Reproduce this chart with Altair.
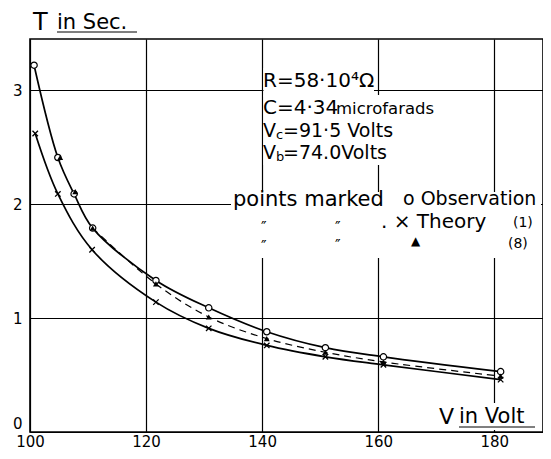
import altair as alt
import pandas as pd

# ---- data ----
obs_v = [100.7, 104.8, 107.6, 110.8, 121.7, 130.8, 140.8, 150.9, 160.9, 181.1]
obs_t = [3.22, 2.41, 2.09, 1.79, 1.33, 1.09, 0.88, 0.74, 0.66, 0.53]

th1_v = [100.9, 104.8, 110.7, 121.7, 130.8, 140.8, 150.9, 160.9, 181.1]
th1_t = [2.62, 2.09, 1.60, 1.14, 0.91, 0.76, 0.66, 0.59, 0.46]

th8_v = [105.2, 107.8, 110.8, 121.7, 130.8, 140.8, 150.9, 160.9, 181.1]
th8_t = [2.41, 2.11, 1.79, 1.30, 1.01, 0.82, 0.70, 0.615, 0.49]

x_ticks = [100, 120, 140, 160, 180]
y_ticks = [0, 1, 2, 3]

FONT = "DejaVu Sans"
# plot area placement (page pixels); the page has an 8px margin
LEFT, TOP = 30, 39
W, H = 513, 393

obs = pd.DataFrame({"V": obs_v, "T": obs_t})
th1 = pd.DataFrame({"V": th1_v, "T": th1_t})
th8 = pd.DataFrame({"V": th8_v, "T": th8_t})
th8_curve = th8[th8["V"] >= 110].reset_index(drop=True)

xs = alt.Scale(domain=[100, 188.4], nice=False, zero=False)
ys = alt.Scale(domain=[0, 3.45], nice=False, zero=False)
xenc = alt.X("V:Q", scale=xs,
             axis=alt.Axis(values=x_ticks, title=None, labelBaseline="top",
                           labelPadding=2, labelFlush=False))
yenc = alt.Y("T:Q", scale=ys,
             axis=alt.Axis(values=y_ticks, title=None, labelPadding=8,
                           labelAlign="right", labelFlush=False,
                           labelOffset={"condition": {"test": "datum.value === 0",
                                                      "value": -9},
                                        "value": 0}))

INTERP = "catmull-rom"
base_obs = alt.Chart(obs).encode(x=xenc, y=yenc)
upper = base_obs.mark_line(color="black", strokeWidth=1.7, interpolate=INTERP)
lower = alt.Chart(th1).mark_line(color="black", strokeWidth=1.7,
                                 interpolate=INTERP).encode(x=xenc, y=yenc)
dashed = alt.Chart(th8_curve).mark_line(color="black", strokeWidth=1.2,
                                        strokeDash=[7, 5],
                                        interpolate=INTERP).encode(x=xenc, y=yenc)

circles = base_obs.mark_point(shape="circle", filled=True, fill="white",
                              stroke="black", strokeWidth=1.2, size=40, opacity=1)
crosses = alt.Chart(th1).mark_point(shape="M-1,-1L1,1M-1,1L1,-1", filled=False,
                                    stroke="black", strokeWidth=1.3, size=30,
                                    opacity=1).encode(x=xenc, y=yenc)
tris = alt.Chart(th8).mark_point(shape="triangle-up", filled=True, color="black",
                                 size=35, opacity=1).encode(x=xenc, y=yenc)

one = pd.DataFrame({"a": [0]})


def white_box(x1, x2, y1, y2):  # page pixels
    return alt.Chart(one).mark_rect(color="white").encode(
        x=alt.value(x1 - LEFT), x2=alt.value(x2 - LEFT),
        y=alt.value(y1 - TOP), y2=alt.value(y2 - TOP))


def txt(s, x, y, size):  # page pixels, left/baseline
    return alt.Chart(one).mark_text(
        text=s, font=FONT, fontSize=size, align="left", baseline="alphabetic",
        color="black").encode(x=alt.value(x - LEFT), y=alt.value(y - TOP))


def hline(x1, x2, y):
    return alt.Chart(one).mark_rule(color="black", strokeWidth=1).encode(
        x=alt.value(x1 - LEFT), x2=alt.value(x2 - LEFT), y=alt.value(y - TOP))


boxes = [
    white_box(263.5, 374, 68, 97),
    white_box(263.5, 440, 95, 165),
    white_box(231, 541, 192, 258),
    white_box(456, 540, 403, 430),
]

texts = [
    # title
    txt("T", 33, 30, 24),
    txt("in Sec.", 57, 29, 21),
    hline(57, 137, 32),
    # x label
    txt("V", 439, 424, 22),
    txt("in Volt", 459, 423, 21),
    hline(459, 535, 427),
    # parameters
    txt("R=58·10⁴Ω", 263, 87, 20),
    txt("C=4·34", 263, 114, 20),
    txt("microfarads", 336, 114, 16.5),
    txt("V", 263, 137, 19),
    txt("c", 276, 139, 13),
    txt("=91·5 Volts", 283, 137, 19),
    txt("V", 263, 159, 19),
    txt("b", 276, 161, 13),
    txt("=74.0Volts", 283, 159, 19),
    # legend
    txt("points marked", 233, 206, 21),
    txt("o Observation", 403, 205, 19),
    txt("″", 261, 233, 15),
    txt("″", 335, 233, 15),
    txt(". × Theory", 381, 228, 20),
    txt("(1)", 513, 227, 14),
    txt("″", 261, 252, 15),
    txt("″", 335, 251, 15),
    txt("▲", 411, 245, 12),
    txt("(8)", 508, 248, 14),
]

chart = alt.layer(*boxes, upper, lower, dashed, circles, crosses, tris, *texts).properties(
    width=W, height=H,
    padding={"left": LEFT - 8, "top": TOP - 8, "right": 0, "bottom": 19},
    autosize=alt.AutoSizeParams(type="none"),
    background="white",
).configure_view(stroke="black", strokeWidth=1.6).configure_axis(
    grid=True, gridColor="black", gridOpacity=1, gridWidth=1.2,
    ticks=False, domain=False, labelFont=FONT, labelFontSize=15,
    labelColor="black",
)

chart.save("out.html", embed_options={"renderer": "svg", "actions": False})
